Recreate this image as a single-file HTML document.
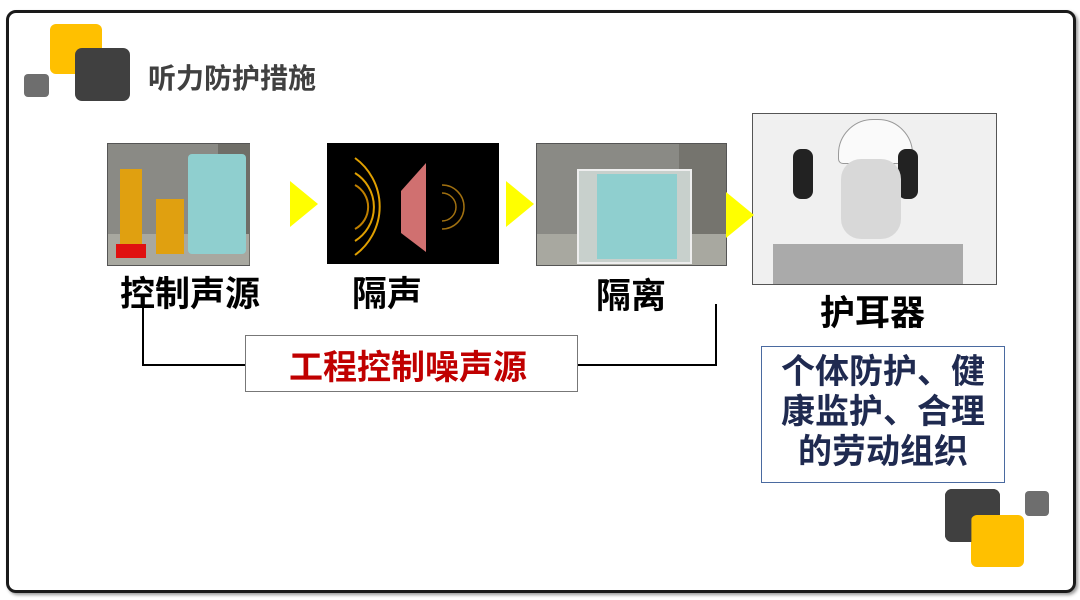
<!DOCTYPE html>
<html><head><meta charset="utf-8"><style>
body{margin:0;width:1080px;height:600px;background:#fff;position:relative;overflow:hidden;font-family:"Liberation Sans","Noto Sans CJK SC",sans-serif}
div{position:absolute;box-sizing:border-box}
.t{font-weight:bold;color:#000;white-space:nowrap}
.tri{width:0;height:0;border-top:23px solid transparent;border-bottom:23px solid transparent;border-left:28px solid #ffff00}
</style></head><body>
<div style="left:6px;top:10px;width:1070px;height:583px;border:3px solid #1a1a1a;border-radius:10px;box-shadow:2px 2px 3px #999"></div>
<div style="left:50px;top:24px;width:52px;height:50px;background:#ffc000;border-radius:6px"></div>
<div style="left:75px;top:48px;width:55px;height:53px;background:#404040;border-radius:7px"></div>
<div style="left:24px;top:74px;width:25px;height:23px;background:#6e6e6e;border-radius:4px"></div>
<div class="t" style="left:148px;top:57px;font-size:28px;color:#404040">听力防护措施</div>

<div style="left:107px;top:143px;width:143px;height:123px;background:#8a8a85;border:1px solid #555">
 <div style="left:110px;top:0;width:32px;height:121px;background:#6f6e68"></div>
 <div style="left:0;top:90px;width:141px;height:31px;background:#a8a8a0"></div>
 <div style="left:80px;top:10px;width:58px;height:100px;background:#8fcfcf;border-radius:4px"></div>
 <div style="left:12px;top:25px;width:22px;height:85px;background:#e0a010"></div>
 <div style="left:48px;top:55px;width:28px;height:55px;background:#e0a010"></div>
 <div style="left:8px;top:100px;width:30px;height:14px;background:#e01010"></div>
</div>
<div style="left:327px;top:143px;width:172px;height:121px;background:#000">
 <svg width="172" height="121" style="position:absolute;left:0;top:0">
  <path d="M28 15 A60 60 0 0 1 28 112" stroke="#e0a000" stroke-width="2" fill="none"/>
  <path d="M28 30 A40 40 0 0 1 28 98" stroke="#e0a000" stroke-width="2" fill="none"/>
  <path d="M28 42 A25 25 0 0 1 28 86" stroke="#c08000" stroke-width="2" fill="none"/>
  <polygon points="74,48 99,20 99,109 74,90" fill="#d07070"/>
  <path d="M115 42 A20 20 0 0 1 115 86" stroke="#a07010" stroke-width="1.5" fill="none"/>
  <path d="M115 50 A12 12 0 0 1 115 78" stroke="#a07010" stroke-width="1.5" fill="none"/>
 </svg>
</div>
<div style="left:536px;top:143px;width:191px;height:123px;background:#8a8a85;border:1px solid #555">
 <div style="left:142px;top:0;width:47px;height:121px;background:#75746e"></div>
 <div style="left:0;top:90px;width:189px;height:31px;background:#a8a8a0"></div>
 <div style="left:40px;top:25px;width:115px;height:95px;background:#c8d0cc;border:2px solid #eee"></div>
 <div style="left:60px;top:30px;width:80px;height:85px;background:#8fcfcf"></div>
</div>
<div style="left:752px;top:113px;width:245px;height:172px;background:#f0f0f0;border:1px solid #555">
 <div style="left:85px;top:5px;width:75px;height:45px;background:#fafafa;border:1px solid #999;border-radius:35px 35px 5px 5px"></div>
 <div style="left:40px;top:35px;width:20px;height:50px;background:#222;border-radius:8px"></div>
 <div style="left:145px;top:35px;width:20px;height:50px;background:#222;border-radius:8px"></div>
 <div style="left:88px;top:45px;width:60px;height:80px;background:#d8d8d8;border-radius:20px"></div>
 <div style="left:20px;top:130px;width:190px;height:40px;background:#aaa"></div>
</div>
<div class="tri" style="left:290px;top:181px"></div>
<div class="tri" style="left:506px;top:181px"></div>
<div class="tri" style="left:726px;top:192px"></div>

<div class="t" style="left:120px;top:266px;font-size:35px">控制声源</div>
<div class="t" style="left:352px;top:266px;font-size:35px">隔声</div>
<div class="t" style="left:596px;top:268px;font-size:35px">隔离</div>
<div class="t" style="left:820px;top:285px;font-size:35px">护耳器</div>

<div style="left:142px;top:302px;width:2px;height:64px;background:#000"></div>
<div style="left:142px;top:364px;width:104px;height:2px;background:#000"></div>
<div style="left:578px;top:364px;width:139px;height:2px;background:#000"></div>
<div style="left:715px;top:304px;width:2px;height:62px;background:#000"></div>
<div style="left:245px;top:335px;width:333px;height:57px;border:1px solid #777;background:#fff"></div>
<div class="t" style="left:289px;top:340px;font-size:34px;color:#c00000">工程控制噪声源</div>

<div style="left:761px;top:346px;width:244px;height:137px;border:1.5px solid #4a6aa0;background:#fff"></div>
<div class="t" style="left:761px;top:352px;font-size:34px;line-height:40px;color:#1f2a50;text-align:center;width:244px">个体防护、健<br>康监护、合理<br>的劳动组织</div>

<div style="left:945px;top:489px;width:55px;height:53px;background:#404040;border-radius:7px"></div>
<div style="left:971px;top:515px;width:53px;height:52px;background:#ffc000;border-radius:6px"></div>
<div style="left:945px;top:489px;width:55px;height:53px;background:#404040;border-radius:7px;clip-path:polygon(0 0,100% 0,100% 48%,48% 48%,48% 100%,0 100%)"></div>
<div style="left:1025px;top:491px;width:24px;height:25px;background:#6e6e6e;border-radius:4px"></div>
</body></html>
